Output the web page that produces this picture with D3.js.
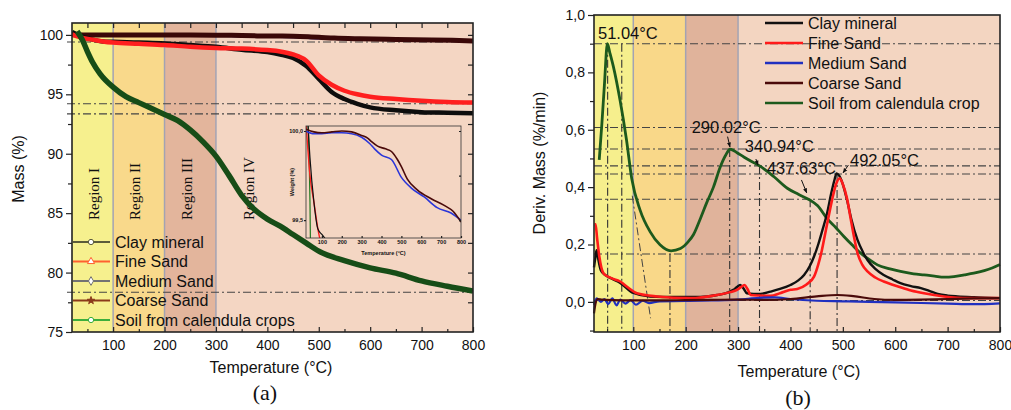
<!DOCTYPE html>
<html><head><meta charset="utf-8">
<script src="https://cdn.jsdelivr.net/npm/d3@7"></script>
<style>
body{margin:0;background:#fff}
svg text{font-family:"Liberation Sans",Arial,sans-serif;fill:#111}
</style>
</head><body>
<svg id="c" width="1011" height="410"></svg>
<script>
// ---------------- DATA ----------------
const seriesNames = ["Clay mineral","Fine Sand","Medium Sand","Coarse Sand","Soil from calendula crops"];
const seriesNamesB = ["Clay mineral","Fine Sand","Medium Sand","Coarse Sand","Soil from calendula crop"];
const regionNames = ["Region I","Region II","Region III","Region IV"];
const regionStart = [0,100,200,300];
const regionEnd = [100,200,300,800];

// (a) TGA mass %
const clayA_T = [20,40,60,80,100,150,200,250,300,350,400,425,450,475,500,525,550,575,600,650,700,750,800];
const clayA_V = [100.25,99.85,99.6,99.45,99.42,99.35,99.28,99.15,99.0,98.75,98.55,98.35,98.05,97.4,96.3,95.2,94.6,94.2,93.9,93.65,93.5,93.45,93.4];
const fineA_T = [20,40,60,80,100,150,200,250,300,350,400,425,450,475,500,525,550,575,600,650,700,750,800];
const fineA_V = [100.05,99.75,99.6,99.45,99.35,99.25,99.15,99.0,98.9,98.85,98.72,98.6,98.35,97.85,96.6,95.8,95.3,95.0,94.8,94.6,94.45,94.35,94.3];
const mediumA_T = [20,60,100,150,200,250,300,340,365,400,450,500,550,615,680,750,800];
const mediumA_V = [100.0,99.985,99.985,99.99,99.99,99.985,99.965,99.93,99.90,99.865,99.84,99.74,99.68,99.63,99.57,99.54,99.50];
const coarseA_T = [20,60,100,150,200,250,300,330,350,380,420,450,480,500,530,580,650,720,760,800];
const coarseA_V = [100.01,99.995,99.99,99.995,100.0,99.995,99.975,99.96,99.94,99.915,99.9,99.885,99.84,99.80,99.73,99.67,99.62,99.58,99.55,99.49];
const soilA_T = [30,40,50,60,75,100,125,150,175,200,225,250,275,300,325,350,375,400,425,450,475,500,550,600,650,700,750,800];
const soilA_V = [100.3,99.6,98.6,97.7,96.7,95.6,94.8,94.3,93.8,93.3,92.8,92.0,91.0,89.8,88.2,86.5,85.3,84.5,83.9,83.2,82.5,81.8,81.0,80.4,79.95,79.3,78.85,78.45];
const refLinesA = [99.4,94.2,93.35,78.35];
const yTicksA = [75,80,85,90,95,100];
const xTicksA = [100,200,300,400,500,600,700,800];
const insetYTicks = [99.5,100.0];

// (b) DTG deriv. mass %/min
const clayB_T = [25,28,30,33,38,46,60,75,100,132,180,228,260,280,291,298,304,310,317,330,343,362,380,400,415,426,437,445,453,461,470,478,484,488,493,500,508,516,528,538,547,562,578,595,610,630,649,665,681,700,719,750,800];
const clayB_V = [0.12,0.16,0.18,0.15,0.11,0.094,0.08,0.066,0.031,0.019,0.017,0.017,0.024,0.032,0.042,0.052,0.059,0.048,0.030,0.028,0.028,0.036,0.045,0.059,0.075,0.094,0.125,0.158,0.20,0.25,0.31,0.38,0.425,0.448,0.44,0.41,0.355,0.29,0.216,0.175,0.146,0.115,0.094,0.078,0.065,0.055,0.048,0.038,0.028,0.022,0.019,0.016,0.013];
const fineB_T = [26,28,31,35,43,55,75,90,107,145,209,260,285,298,306,312,318,324,340,362,380,400,413,430,445,453,460,466,472,480,487,494,500,508,515,521,528,537,547,562,578,595,610,630,655,693,738,800];
const fineB_V = [0.27,0.27,0.22,0.16,0.10,0.085,0.071,0.05,0.030,0.019,0.013,0.024,0.034,0.042,0.052,0.059,0.045,0.024,0.022,0.021,0.03,0.042,0.045,0.06,0.088,0.13,0.18,0.235,0.29,0.36,0.41,0.431,0.41,0.36,0.29,0.23,0.17,0.13,0.106,0.085,0.071,0.06,0.051,0.04,0.030,0.019,0.013,0.013];
const mediumB_T = [25,30,38,45,52,60,68,75,85,95,105,118,130,150,200,250,300,340,370,400,450,500,550,600,650,700,750,800];
const mediumB_V = [-0.01,0.012,0.0,0.01,-0.008,0.012,-0.012,0.008,-0.006,0.006,-0.01,0.004,-0.004,0.002,0.003,0.005,0.008,0.014,0.016,0.01,0.004,0.002,0.0,-0.002,-0.004,-0.006,-0.008,-0.005];
const coarseB_T = [25,28,32,40,60,100,150,200,250,300,355,400,450,490,520,560,600,650,700,750,800];
const coarseB_V = [-0.04,-0.005,0.01,0.008,0.006,0.005,0.005,0.006,0.007,0.008,0.007,0.01,0.019,0.024,0.02,0.01,0.007,0.008,0.01,0.012,0.013];
const soilB_T = [35,40,45,50.5,55,62,75,87,97,113,132,151,172,190,205,215,228,240,253,266,276,285,298,311,325,341,368,394,415,437,452,470,486,502,518,534,550,566,590,610,635,655,675,693,712,732,750,770,785,800];
const soilB_V = [0.495,0.62,0.76,0.90,0.87,0.82,0.70,0.565,0.43,0.32,0.245,0.199,0.178,0.186,0.21,0.235,0.29,0.345,0.40,0.47,0.51,0.532,0.52,0.505,0.49,0.474,0.437,0.396,0.375,0.355,0.335,0.29,0.26,0.228,0.198,0.17,0.148,0.129,0.115,0.106,0.098,0.094,0.090,0.086,0.088,0.094,0.10,0.109,0.118,0.13];
const refLinesB = [0.9,0.608,0.533,0.474,0.446,0.358,0.167,0.005];
const vLinesB_T = [51.04,78,170,284,340.94,437.63,489];
const vLinesB_top = [0.9,0.9,0.167,0.533,0.474,0.358,0.446];
const tangentB_T = [98,133];
const tangentB_V = [0.37,-0.057];
const peakLabels = ["51.04°C","290.02°C","340.94°C","437.63°C","492.05°C"];
const peakLabelT = [32.6,211.5,313,355,513.6];
const peakLabelV = [0.917,0.589,0.523,0.446,0.474];
const arrowFromT = [null,280,334,421,510.6];
const arrowFromV = [null,0.576,0.498,0.425,0.477];
const arrowToT = [null,284.5,338,431,500.5];
const arrowToV = [null,0.540,0.477,0.380,0.450];
const yTicksB = [0,0.2,0.4,0.6,0.8,1.0];
const xTicksB = [100,200,300,400,500,600,700,800];

// ---------------- STYLE ----------------
const regionColors = ["#f6f08e","#f9d98b","#e3b59c","#f4d6c3"];
const regionColorsB = ["#f6ef8d","#f9d889","#e0b39b","#f3d5c1"];
const DD = "8,3,2,3";
const zip = (a,b)=>a.map((t,i)=>[t,b[i]]);
const svg = d3.select("#c");
const defs = svg.append("defs");
defs.append("marker").attr("id","arr").attr("viewBox","0 0 10 10").attr("refX",9).attr("refY",5)
  .attr("markerWidth",5).attr("markerHeight",5).attr("orient","auto")
  .append("path").attr("d","M0,1 L10,5 L0,9 z").attr("fill","#111");

function mkLine(x,y){return d3.line().x(d=>x(d[0])).y(d=>y(d[1])).curve(d3.curveMonotoneX);}

// ================= PANEL A =================
const A = {l:72,r:473,t:23,b:332};
const xA = d3.scaleLinear().domain([20,800]).range([A.l,A.r]);
const yA = d3.scaleLinear().domain([75,101]).range([A.b,A.t]);
const gA = svg.append("g");
regionStart.forEach((s,i)=>{
  const s2 = Math.max(s,xA.domain()[0]);
  gA.append("rect").attr("x",xA(s2)).attr("y",A.t).attr("width",xA(regionEnd[i])-xA(s2)).attr("height",A.b-A.t).attr("fill",regionColors[i]);
});
[100,200,300].forEach(v=>gA.append("line").attr("x1",xA(v)).attr("x2",xA(v)).attr("y1",A.t).attr("y2",A.b).attr("stroke","#a3a3b3").attr("stroke-width",1.5));
// region labels
regionNames.forEach((n,i)=>{
  const s2 = Math.max(regionStart[i],xA.domain()[0]);
  const xx = xA(s2)+(i===3?33:22);
  gA.append("text").attr("transform",`translate(${xx},220) rotate(-90)`).attr("dy","0.35em")
    .style("font-family","'Liberation Serif',serif").style("font-size","15px").text(n);
});
// ref lines
refLinesA.forEach(v=>gA.append("line").attr("x1",67).attr("x2",A.r).attr("y1",yA(v)).attr("y2",yA(v))
  .attr("stroke","#444").attr("stroke-width",1.1).attr("stroke-dasharray",DD));
// curves
const lA = mkLine(xA,yA);
const clipA = defs.append("clipPath").attr("id","clipA");
clipA.append("rect").attr("x",A.l).attr("y",A.t).attr("width",A.r-A.l).attr("height",A.b-A.t);
const cA = gA.append("g").attr("clip-path","url(#clipA)");
cA.append("path").attr("d",lA(zip(mediumA_T,mediumA_V))).attr("fill","none").attr("stroke","#2a35c8").attr("stroke-width",3);
cA.append("path").attr("d",lA(zip(coarseA_T,coarseA_V))).attr("fill","none").attr("stroke","#3a0808").attr("stroke-width",5);
cA.append("path").attr("d",lA(zip(clayA_T,clayA_V))).attr("fill","none").attr("stroke","#0d0d0d").attr("stroke-width",4.5);
cA.append("path").attr("d",lA(zip(fineA_T,fineA_V))).attr("fill","none").attr("stroke","#ff1f1f").attr("stroke-width",4.5);
cA.append("path").attr("d",lA(zip(soilA_T,soilA_V))).attr("fill","none").attr("stroke","#174d17").attr("stroke-width",5.5);

// inset
const I = {l:306,r:461,t:126,b:238};
const xI = d3.scaleLinear().domain([20,800]).range([I.l,I.r]);
const yI = d3.scaleLinear().domain([99.4,100.028]).range([I.b,I.t]);
const gI = svg.append("g");
gI.append("rect").attr("x",I.l).attr("y",I.t).attr("width",I.r-I.l).attr("height",I.b-I.t).attr("fill",regionColors[3]);
const clipI = defs.append("clipPath").attr("id","clipI");
clipI.append("rect").attr("x",I.l).attr("y",I.t).attr("width",I.r-I.l).attr("height",I.b-I.t);
const cI = gI.append("g").attr("clip-path","url(#clipI)");
const lI = mkLine(xI,yI);
cI.append("path").attr("d",lI(zip(soilA_T.map((t,i)=>i===0?20:t),soilA_V))).attr("fill","none").attr("stroke","#1f7a1f").attr("stroke-width",1.2);
cI.append("path").attr("d",lI(zip(fineA_T,fineA_V))).attr("fill","none").attr("stroke","#ff1f1f").attr("stroke-width",1.4);
cI.append("path").attr("d",lI(zip(clayA_T,clayA_V))).attr("fill","none").attr("stroke","#111").attr("stroke-width",1.2);
cI.append("path").attr("d",lI(zip(mediumA_T,mediumA_V))).attr("fill","none").attr("stroke","#2a35d8").attr("stroke-width",1.6);
cI.append("path").attr("d",lI(zip(coarseA_T,coarseA_V))).attr("fill","none").attr("stroke","#4a0a0a").attr("stroke-width",1.6);
gI.append("rect").attr("x",I.l).attr("y",I.t).attr("width",I.r-I.l).attr("height",I.b-I.t).attr("fill","none").attr("stroke","#333").attr("stroke-width",0.8);
const axIB = gI.append("g").attr("transform",`translate(0,${I.b})`).call(d3.axisBottom(xI).tickValues(xTicksA).tickSizeInner(-2).tickSizeOuter(0).tickPadding(2));
const axIL = gI.append("g").attr("transform",`translate(${I.l},0)`).call(d3.axisLeft(yI).tickValues(insetYTicks).tickFormat(d=>d3.format(".1f")(d).replace(".",",")).tickSizeInner(2).tickSizeOuter(0).tickPadding(1));
gI.append("g").attr("transform",`translate(${I.r},0)`).call(d3.axisRight(yI).tickValues([99.5,99.75,100]).tickFormat("").tickSizeInner(-2).tickSizeOuter(0));
[axIB,axIL].forEach(a=>{a.selectAll("text").style("font-size","5.5px").style("font-weight","bold");a.select(".domain").remove();});
gI.selectAll(".tick line").attr("stroke","#333").attr("stroke-width",0.6);
gI.selectAll(".domain").remove();
gI.append("text").attr("x",(I.l+I.r)/2).attr("y",I.b+17).attr("text-anchor","middle").style("font-size","5.5px").style("font-weight","bold").text("Temperature (°C)");
gI.append("text").attr("transform",`translate(292,${(I.t+I.b)/2}) rotate(-90)`).attr("text-anchor","middle").attr("dy","0.35em").style("font-size","5.5px").style("font-weight","bold").text("Weight (%)");

// legend A
const legColA = ["#5c5c3a","#ff6030","#737373","#8b3a1a","#3cae3c"];
const legSym = [d3.symbolCircle,d3.symbolTriangle,d3.symbolDiamond,d3.symbolStar,d3.symbolCircle];
seriesNames.forEach((n,i)=>{
  const yy = 242+i*19.5;
  const g = svg.append("g");
  g.append("line").attr("x1",73).attr("x2",110).attr("y1",yy).attr("y2",yy).attr("stroke",legColA[i]).attr("stroke-width",1.8);
  g.append("path").attr("transform",`translate(91,${yy})`).attr("d",d3.symbol().type(legSym[i]).size(i===3?18:22)())
    .attr("fill",i===3?legColA[i]:"#fff").attr("stroke",legColA[i]).attr("stroke-width",1);
  g.append("text").attr("x",115).attr("y",yy).attr("dy","0.36em").style("font-size","16px").text(n);
});

// axes A
const axAL = svg.append("g").attr("transform",`translate(${A.l},0)`).call(d3.axisLeft(yA).tickValues(yTicksA).tickSizeInner(6).tickSizeOuter(0).tickPadding(3));
svg.append("g").attr("transform",`translate(${A.l},0)`).call(d3.axisLeft(yA).tickValues([77.5,82.5,87.5,92.5,97.5]).tickFormat("").tickSizeInner(4).tickSizeOuter(0));
const axAB = svg.append("g").attr("transform",`translate(0,${A.b})`).call(d3.axisBottom(xA).tickValues(xTicksA).tickSizeInner(-5).tickSizeOuter(0).tickPadding(8));
svg.append("g").attr("transform",`translate(0,${A.b})`).call(d3.axisBottom(xA).tickValues([50,150,250,350,450,550,650,750]).tickFormat("").tickSizeInner(-3).tickSizeOuter(0));
svg.append("g").attr("transform",`translate(0,${A.t})`).call(d3.axisTop(xA).tickValues(d3.range(50,800,50)).tickFormat("").tickSizeInner(-5).tickSizeOuter(0));
svg.append("g").attr("transform",`translate(${A.r},0)`).call(d3.axisRight(yA).tickValues(d3.range(77.5,101,2.5)).tickFormat("").tickSizeInner(-5).tickSizeOuter(0));
[axAL,axAB].forEach(a=>a.selectAll("text").style("font-size","14px"));
svg.selectAll(".domain").remove();
svg.selectAll(".tick line").attr("stroke","#222").attr("stroke-width",1.2);
svg.append("rect").attr("x",A.l).attr("y",A.t).attr("width",A.r-A.l).attr("height",A.b-A.t).attr("fill","none").attr("stroke","#222").attr("stroke-width",1.6);
svg.append("text").attr("transform",`translate(18.5,169) rotate(-90)`).attr("text-anchor","middle").attr("dy","0.35em").style("font-size","16px").text("Mass (%)");
svg.append("text").attr("x",271).attr("y",373).attr("text-anchor","middle").style("font-size","16px").text("Temperature (°C)");
svg.append("text").attr("x",265).attr("y",400).attr("text-anchor","middle").style("font-family","'Liberation Serif',serif").style("font-size","22px").text("(a)");

// ================= PANEL B =================
const B = {l:594,r:1000,t:15,b:332};
const xB = d3.scaleLinear().domain([25,800]).range([B.l,B.r]);
const yB = d3.scaleLinear().domain([-0.105,1.0]).range([B.b,B.t]);
const gB = svg.append("g");
regionStart.forEach((s,i)=>{
  const s2 = Math.max(s,xB.domain()[0]);
  gB.append("rect").attr("x",xB(s2)).attr("y",B.t).attr("width",xB(regionEnd[i])-xB(s2)).attr("height",B.b-B.t).attr("fill",regionColorsB[i]);
});
[100,200,300].forEach(v=>gB.append("line").attr("x1",xB(v)).attr("x2",xB(v)).attr("y1",B.t).attr("y2",B.b).attr("stroke","#a3a3b3").attr("stroke-width",1.5));
refLinesB.forEach(v=>gB.append("line").attr("x1",B.l).attr("x2",B.r).attr("y1",yB(v)).attr("y2",yB(v))
  .attr("stroke","#444").attr("stroke-width",1.1).attr("stroke-dasharray",DD));
vLinesB_T.forEach((t,i)=>gB.append("line").attr("x1",xB(t)).attr("x2",xB(t)).attr("y1",yB(vLinesB_top[i])).attr("y2",B.b)
  .attr("stroke","#333").attr("stroke-width",1.1).attr("stroke-dasharray",DD));
gB.append("line").attr("x1",xB(tangentB_T[0])).attr("x2",xB(tangentB_T[1])).attr("y1",yB(tangentB_V[0])).attr("y2",yB(tangentB_V[1]))
  .attr("stroke","#444").attr("stroke-width",1).attr("stroke-dasharray",DD);
const lB = mkLine(xB,yB);
gB.append("path").attr("d",lB(zip(soilB_T,soilB_V))).attr("fill","none").attr("stroke","#1d5a1d").attr("stroke-width",2.8);
gB.append("path").attr("d",lB(zip(clayB_T,clayB_V))).attr("fill","none").attr("stroke","#111").attr("stroke-width",2.4);
gB.append("path").attr("d",lB(zip(fineB_T,fineB_V))).attr("fill","none").attr("stroke","#ff1a1a").attr("stroke-width",2.6);
gB.append("path").attr("d",lB(zip(mediumB_T,mediumB_V))).attr("fill","none").attr("stroke","#2030c0").attr("stroke-width",2.2);
gB.append("path").attr("d",lB(zip(coarseB_T,coarseB_V))).attr("fill","none").attr("stroke","#4a0a0a").attr("stroke-width",2.2);
// peak labels
peakLabels.forEach((l,i)=>{
  gB.append("text").attr("x",xB(peakLabelT[i])).attr("y",yB(peakLabelV[i])).style("font-size","16.5px").text(l);
  if(arrowFromT[i]!==null){
    gB.append("line").attr("x1",xB(arrowFromT[i])).attr("y1",yB(arrowFromV[i])).attr("x2",xB(arrowToT[i])).attr("y2",yB(arrowToV[i]))
      .attr("stroke","#111").attr("stroke-width",1).attr("marker-end","url(#arr)");
  }
});
// legend B
const legColB = ["#111","#ff1a1a","#2030c0","#4a0a0a","#1d5a1d"];
seriesNamesB.forEach((n,i)=>{
  const yy = 23+i*20;
  svg.append("line").attr("x1",765).attr("x2",803).attr("y1",yy).attr("y2",yy).attr("stroke",legColB[i]).attr("stroke-width",2.4);
  svg.append("text").attr("x",808).attr("y",yy).attr("dy","0.36em").style("font-size","16px").text(n);
});
// axes B
const axBL = svg.append("g").attr("transform",`translate(${B.l},0)`).call(d3.axisLeft(yB).tickValues(yTicksB).tickFormat(d=>d3.format(".1f")(d).replace(".",",")).tickSizeInner(6).tickSizeOuter(0).tickPadding(3));
svg.append("g").attr("transform",`translate(${B.l},0)`).call(d3.axisLeft(yB).tickValues([-0.1,0.1,0.3,0.5,0.7,0.9]).tickFormat("").tickSizeInner(4).tickSizeOuter(0));
const axBB = svg.append("g").attr("transform",`translate(0,${B.b})`).call(d3.axisBottom(xB).tickValues(xTicksB).tickSizeInner(-5).tickSizeOuter(0).tickPadding(8));
svg.append("g").attr("transform",`translate(0,${B.b})`).call(d3.axisBottom(xB).tickValues([50,150,250,350,450,550,650,750]).tickFormat("").tickSizeInner(-3).tickSizeOuter(0));
[axBL,axBB].forEach(a=>a.selectAll("text").style("font-size","14px"));
svg.selectAll(".domain").remove();
svg.selectAll(".tick line").attr("stroke","#222").attr("stroke-width",1.2);
svg.append("rect").attr("x",B.l).attr("y",B.t).attr("width",B.r-B.l).attr("height",B.b-B.t).attr("fill","none").attr("stroke","#222").attr("stroke-width",1.6);
svg.append("text").attr("transform",`translate(539,163) rotate(-90)`).attr("text-anchor","middle").attr("dy","0.35em").style("font-size","16px").text("Deriv. Mass (%/min)");
svg.append("text").attr("x",799).attr("y",377).attr("text-anchor","middle").style("font-size","16px").text("Temperature (°C)");
svg.append("text").attr("x",798).attr("y",405).attr("text-anchor","middle").style("font-family","'Liberation Serif',serif").style("font-size","22px").text("(b)");
</script>
</body></html>
